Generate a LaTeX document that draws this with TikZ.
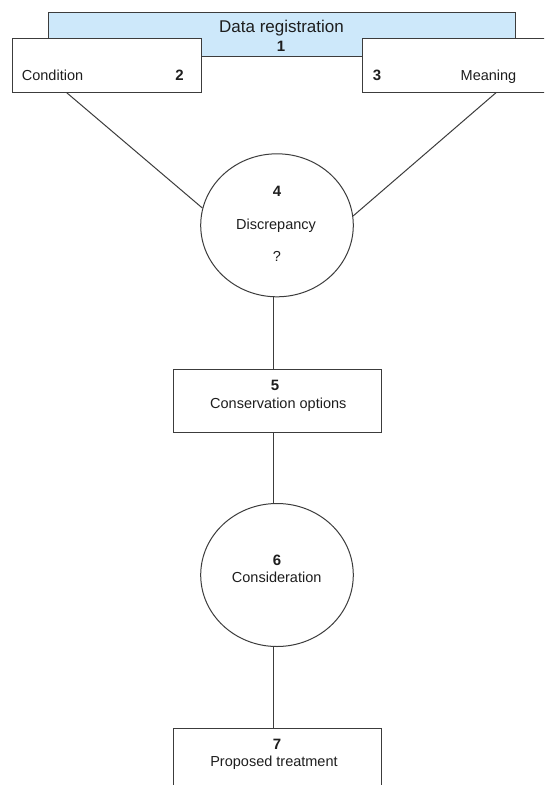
\documentclass[tikz,border=0pt]{standalone}
\usepackage{fontspec}
\setmainfont{Liberation Sans}
\usetikzlibrary{shapes.geometric}
\definecolor{regblue}{RGB}{205,232,250}
\definecolor{edgecol}{RGB}{60,60,60}
\definecolor{txtcol}{RGB}{30,30,30}
\begin{document}
\begin{tikzpicture}[x=1pt,y=-1pt,
 box/.style={draw=edgecol,line width=1pt,inner sep=0pt,anchor=north west,fill=white},
 oval/.style={draw=edgecol,line width=1pt,ellipse,inner sep=0pt,minimum width=152.6pt,minimum height=143pt,fill=white},
 lbl/.style={font=\fontsize{14.5}{17}\selectfont,text=txtcol,anchor=base,inner sep=0pt},
 num/.style={font=\fontsize{15}{17}\selectfont\bfseries,text=txtcol,anchor=base,inner sep=0pt},
 ttl/.style={font=\fontsize{17}{20}\selectfont,text=txtcol,anchor=base,inner sep=0pt},
 link/.style={draw=edgecol,line width=1pt}]
\clip (0,0) rectangle (544,785);
\fill[white] (0,0) rectangle (544,785);
\coordinate (ax) at (273,0);
% boxes
\node[box,fill=regblue,minimum width=467pt,minimum height=44pt] (b1) at (47.7,11.7) {};
\node[box,minimum width=189pt,minimum height=54pt] (b2) at (11.7,37.7) {};
\node[box,minimum width=200pt,minimum height=54pt] (b3) at (362,37.7) {};
\node[oval] (c4) at (277,225.3) {};
\node[box,minimum width=207.4pt,minimum height=62.4pt] (b5) at (173.3,369.3) {};
\node[oval] (c6) at (277,575) {};
\node[box,minimum width=207.4pt,minimum height=80pt] (b7) at (173.3,727.7) {};
% connectors
\draw[link] ([xshift=55pt]b2.south west) -- (c4.167);
\draw[link] ([xshift=134pt]b3.south west) -- (c4.7);
\draw[link] (c4.south -| ax) -- (b5.north -| ax);
\draw[link] (b5.south -| ax) -- (c6.north -| ax);
\draw[link] (c6.south -| ax) -- (b7.north -| ax);
% texts
\node[ttl] (t1) at (281.5,32.7) {Data registration};
\node[num] (n1) at (281,51) {1};
\node[lbl,anchor=base west] (t2) at (21.7,80) {Condition};
\node[num] (n2) at (179.5,80) {2};
\node[num] (n3) at (377,80) {3};
\node[lbl] (t3) at (488.5,80) {Meaning};
\node[num] (n4) at (277,196.7) {4};
\node[lbl] (t4) at (276,229.3) {Discrepancy};
\node[lbl] (q4) at (277,261.7) {?};
\node[num] (n5) at (275,390.7) {5};
\node[lbl] (t5) at (278.3,408.7) {Conservation options};
\node[num] (n6) at (277,565) {6};
\node[lbl] (t6) at (276.7,582.3) {Consideration};
\node[num] (n7) at (277,749) {7};
\node[lbl] (t7) at (274,766) {Proposed treatment};
\end{tikzpicture}
\end{document}
